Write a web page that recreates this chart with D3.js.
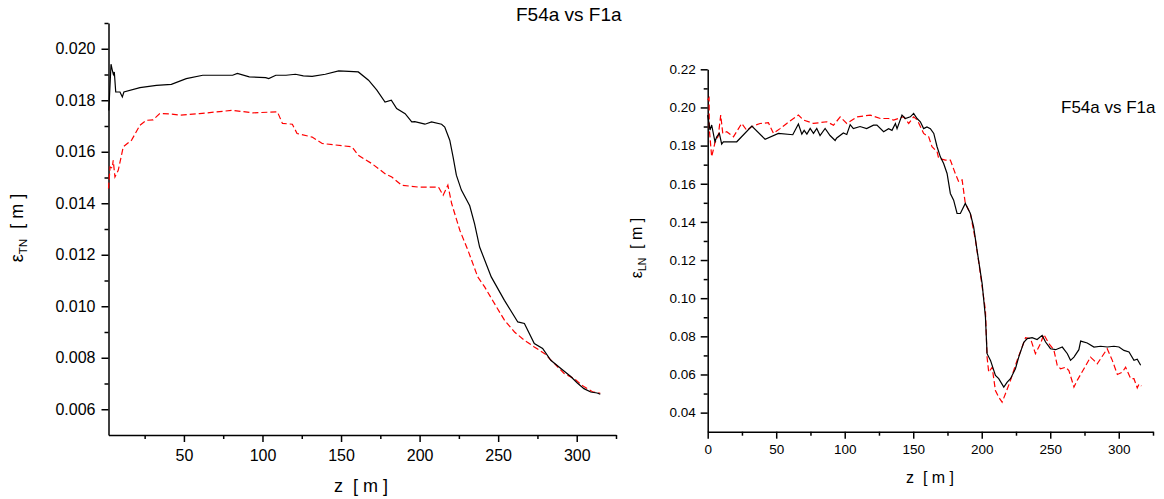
<!DOCTYPE html>
<html>
<head>
<meta charset="utf-8">
<script src="https://cdn.jsdelivr.net/npm/d3@7"></script>
<style>
  body { margin: 0; background: #fff; }
  svg { display: block; font-family: "Liberation Sans", Arial, sans-serif; }
  .axis path, .axis line { stroke: #000; stroke-width: 1.5; }
  .axis text { fill: #000; }
</style>
</head>
<body>
<div id="chart"></div>
<script>
// transverse emittance (left panel)
const tnBlackZ = [2.2, 3.6, 4.3, 5.1, 5.7, 6.6, 9.3, 10.8, 11.8, 22, 32.5, 42, 51.5, 62, 81, 84, 91.6, 102, 104, 108.5, 115, 121, 126, 131.6, 140, 148.5, 155, 161, 167.5, 172.8, 178, 182, 185.4, 190.8, 195, 197, 203.4, 207.6, 214, 216, 219.2, 221.3, 223.4, 226.6, 231.9, 235, 238.2, 245.6, 254, 262.5, 266.7, 273, 278.3, 283.5, 289.9, 296, 300.4, 304.6, 308.9, 313, 315];
const tnBlack = [0.0176, 0.0194, 0.0192, 0.0190, 0.0191, 0.01832, 0.01832, 0.01813, 0.01832, 0.01849, 0.01858, 0.01862, 0.01884, 0.01897, 0.01897, 0.01904, 0.01891, 0.01888, 0.01884, 0.01897, 0.01897, 0.01901, 0.01895, 0.01893, 0.01901, 0.01914, 0.01912, 0.0191, 0.01878, 0.01839, 0.01793, 0.018, 0.01768, 0.01748, 0.01716, 0.01717, 0.01707, 0.01716, 0.01707, 0.01696, 0.01645, 0.0158, 0.01509, 0.01451, 0.01390, 0.01320, 0.0123, 0.01114, 0.01023, 0.00939, 0.00933, 0.00855, 0.00836, 0.0079, 0.00758, 0.00728, 0.00702, 0.0068, 0.00667, 0.00663, 0.00658];
const tnRedZ = [2, 3, 4.4, 5, 6.1, 8.2, 11.4, 16.7, 22, 26, 30.4, 34.6, 41, 47.3, 60, 81, 93.7, 109.5, 112.7, 119, 122, 131.6, 138, 157, 161, 169.6, 178, 182.3, 188.6, 199, 212, 215, 218, 220.4, 225.6, 230.8, 237, 241.4, 247.7, 254, 260.4, 266.7, 273, 279.4, 285.7, 292, 298.4, 304, 310, 315];
const tnRed = [0.01457, 0.01541, 0.01537, 0.01567, 0.01502, 0.01528, 0.01619, 0.01645, 0.01703, 0.01722, 0.01724, 0.01748, 0.01747, 0.01742, 0.01748, 0.01761, 0.01751, 0.01755, 0.0171, 0.01707, 0.01671, 0.01657, 0.01632, 0.01619, 0.01586, 0.01554, 0.01515, 0.01502, 0.0147, 0.01463, 0.01463, 0.01431, 0.0147, 0.01399, 0.01295, 0.01217, 0.01114, 0.01075, 0.0101, 0.00946, 0.009, 0.00868, 0.00842, 0.00817, 0.00778, 0.00739, 0.00719, 0.0069, 0.00668, 0.00662];

// longitudinal emittance (right panel)
const lnBlackZ = [0, 1.7, 2.9, 5.3, 6.6, 8.5, 10.2, 11.4, 21.2, 32.2, 41.9, 51.6, 62.1, 66.2, 68.7, 70.4, 72.4, 74.8, 77.2, 79.6, 82, 85.7, 89.3, 93, 94.2, 99, 101.5, 104, 106.3, 111.2, 116, 121, 123.5, 128.4, 132, 134.5, 137, 138.2, 141.8, 144.2, 147.9, 150.3, 152.8, 155.2, 157.6, 160, 162.5, 165, 167.4, 169.8, 172.2, 174.7, 177.1, 179.5, 182, 184.4, 188, 191.7, 194.1, 196.6, 200.3, 202.7, 203.9, 206.4, 210, 212.4, 216.1, 218.6, 221, 224.6, 227, 230.7, 233.2, 236.8, 240.4, 244.1, 246.6, 250.2, 253.9, 258.8, 262.5, 264.8, 267.3, 270.9, 272.2, 277, 281.9, 286.8, 291.6, 296.5, 300.2, 303.8, 307.5, 311.1, 313.5, 316];
const lnBlack = [0.196, 0.1881, 0.1908, 0.182, 0.1846, 0.1864, 0.1808, 0.182, 0.182, 0.1902, 0.1833, 0.1864, 0.1857, 0.1913, 0.186, 0.188, 0.186, 0.189, 0.1864, 0.189, 0.1853, 0.189, 0.1853, 0.1827, 0.184, 0.1866, 0.1858, 0.191, 0.1889, 0.19, 0.1889, 0.1907, 0.1907, 0.1873, 0.1889, 0.188, 0.1916, 0.1889, 0.196, 0.1942, 0.1951, 0.1969, 0.1942, 0.1925, 0.1889, 0.1898, 0.1889, 0.1864, 0.1794, 0.1741, 0.1706, 0.1654, 0.1549, 0.1514, 0.1444, 0.1444, 0.1497, 0.1444, 0.1374, 0.1251, 0.1076, 0.0901, 0.0709, 0.0674, 0.0595, 0.0578, 0.0534, 0.056, 0.0578, 0.063, 0.0691, 0.0769, 0.0788, 0.0793, 0.0783, 0.0805, 0.077, 0.0735, 0.073, 0.0744, 0.0709, 0.0674, 0.0691, 0.073, 0.0775, 0.0765, 0.0744, 0.0748, 0.0744, 0.0748, 0.0744, 0.0726, 0.0718, 0.0674, 0.068, 0.0648];
const lnRedZ = [0, 1, 1.2, 2.9, 5.3, 7.7, 9.5, 11, 13.9, 18.8, 24.8, 28.5, 32.2, 38.2, 44.3, 48, 52.8, 57.7, 66.2, 69.9, 77.2, 86.9, 91.8, 96.7, 101.5, 108.8, 118.6, 126, 132, 135.7, 143, 146.7, 150.3, 153, 157.6, 161.3, 163.7, 167.4, 168.6, 173.5, 177.1, 180.7, 183.2, 185.7, 188, 191.7, 195.4, 198, 202.7, 203.9, 205.1, 207.6, 210, 212.4, 214.9, 217.3, 221, 225.8, 229.5, 232, 235.6, 239.2, 242.9, 245.3, 249, 252.6, 255.1, 257.5, 261.2, 263.6, 267.3, 269.7, 274.6, 279.4, 281.9, 284.3, 286.8, 291.6, 295.3, 299, 302.6, 305, 308.7, 311.1, 313.5, 314.8, 316.5];
const lnRed = [0.2039, 0.205, 0.1885, 0.1741, 0.1815, 0.185, 0.196, 0.1864, 0.1873, 0.1846, 0.1916, 0.188, 0.19, 0.1916, 0.192, 0.1864, 0.1889, 0.1916, 0.196, 0.1934, 0.1916, 0.1925, 0.1907, 0.195, 0.1916, 0.195, 0.196, 0.1942, 0.1942, 0.1934, 0.1951, 0.1916, 0.1951, 0.1934, 0.1864, 0.1846, 0.1794, 0.1768, 0.1733, 0.1724, 0.1724, 0.1654, 0.161, 0.162, 0.1497, 0.1444, 0.1304, 0.118, 0.0936, 0.0691, 0.0612, 0.0638, 0.0516, 0.0481, 0.0455, 0.0499, 0.0569, 0.0674, 0.0744, 0.0793, 0.0788, 0.0709, 0.0762, 0.081, 0.0762, 0.073, 0.0648, 0.063, 0.0638, 0.0621, 0.0534, 0.0569, 0.063, 0.0691, 0.0674, 0.0656, 0.0683, 0.0735, 0.0674, 0.06, 0.0612, 0.0638, 0.0578, 0.0578, 0.053, 0.055, 0.054];

const tnYTicks = [0.006, 0.008, 0.010, 0.012, 0.014, 0.016, 0.018, 0.020];
const tnYMinor = [0.007, 0.009, 0.011, 0.013, 0.015, 0.017, 0.019, 0.021];
const tnXTicks = [50, 100, 150, 200, 250, 300];
const lnYTicks = [0.04, 0.06, 0.08, 0.10, 0.12, 0.14, 0.16, 0.18, 0.20, 0.22];
const lnYMinor = [0.05, 0.07, 0.09, 0.11, 0.13, 0.15, 0.17, 0.19, 0.21];
const lnXTicks = [0, 50, 100, 150, 200, 250, 300];
const zMinor = [25, 75, 125, 175, 225, 275, 325];

const svg = d3.select('#chart').append('svg')
  .attr('width', 1164)
  .attr('height', 499);

function panel(opt) {
  const x = d3.scaleLinear().domain(opt.xDomain).range(opt.xRange);
  const y = d3.scaleLinear().domain(opt.yDomain).range(opt.yRange);
  const fs = opt.fontSize;

  // minor ticks first, so major axis draws over them
  svg.append('g').attr('class', 'axis')
    .attr('transform', `translate(${opt.xRange[0]},0)`)
    .call(d3.axisLeft(y).tickValues(opt.yMinor).tickSize(4).tickFormat(''))
    .call(g => g.select('.domain').remove());
  svg.append('g').attr('class', 'axis')
    .attr('transform', `translate(0,${opt.yRange[0]})`)
    .call(d3.axisBottom(x).tickValues(zMinor).tickSize(4).tickFormat(''))
    .call(g => g.select('.domain').remove());

  svg.append('g').attr('class', 'axis')
    .attr('transform', `translate(${opt.xRange[0]},0)`)
    .call(d3.axisLeft(y).tickValues(opt.yTicks).tickSize(7).tickSizeOuter(0)
      .tickPadding(opt.yPad).tickFormat(d3.format(opt.yFormat)))
    .call(g => g.selectAll('text').style('font-size', fs + 'px'));

  svg.append('g').attr('class', 'axis')
    .attr('transform', `translate(0,${opt.yRange[0]})`)
    .call(d3.axisBottom(x).tickValues(opt.xTicks).tickSize(7).tickSizeOuter(0)
      .tickPadding(opt.xPad))
    .call(g => g.selectAll('text').style('font-size', fs + 'px'));

  const line = d3.line().x(d => x(d[0])).y(d => y(d[1]));

  svg.append('path')
    .datum(d3.zip(opt.redZ, opt.red))
    .attr('fill', 'none')
    .attr('stroke', '#ff0000')
    .attr('stroke-width', 1.2)
    .attr('stroke-dasharray', '6,3')
    .attr('d', line);

  svg.append('path')
    .datum(d3.zip(opt.blackZ, opt.black))
    .attr('fill', 'none')
    .attr('stroke', '#000')
    .attr('stroke-width', 1.2)
    .attr('d', line);

  // axis titles
  svg.append('text')
    .attr('x', opt.xTitle[0]).attr('y', opt.xTitle[1])
    .attr('text-anchor', 'middle')
    .style('font-size', opt.titleSize + 'px')
    .style('white-space', 'pre')
    .text('z  [ m ]');

  const yt = svg.append('text')
    .attr('transform', `translate(${opt.yTitle[0]},${opt.yTitle[1]}) rotate(-90)`)
    .attr('text-anchor', 'middle')
    .style('font-size', opt.titleSize + 'px')
    .style('white-space', 'pre');
  yt.append('tspan').text('\u03b5');
  yt.append('tspan').attr('dy', 4).style('font-size', (opt.titleSize * 0.65) + 'px').text(opt.sub);
  yt.append('tspan').attr('dy', -4).text('  [ m ]');

  svg.append('text')
    .attr('x', opt.label[0]).attr('y', opt.label[1])
    .style('font-size', opt.labelSize + 'px')
    .text('F54a vs F1a');
}

panel({
  xDomain: [2, 325], xRange: [108.5, 616],
  yDomain: [0.005, 0.021], yRange: [435, 23],
  yTicks: tnYTicks, yMinor: tnYMinor, xTicks: tnXTicks, yFormat: '.3f',
  fontSize: 16, yPad: 6, xPad: 8, titleSize: 18, labelSize: 19,
  blackZ: tnBlackZ, black: tnBlack, redZ: tnRedZ, red: tnRed,
  xTitle: [361, 492], yTitle: [23, 228], sub: 'TN', label: [516, 21]
});

panel({
  xDomain: [0, 325], xRange: [707.7, 1153],
  yDomain: [0.03, 0.22], yRange: [431.7, 69.3],
  yTicks: lnYTicks, yMinor: lnYMinor, xTicks: lnXTicks, yFormat: '.2f',
  fontSize: 13.5, yPad: 5, xPad: 6, titleSize: 16, labelSize: 17,
  blackZ: lnBlackZ, black: lnBlack, redZ: lnRedZ, red: lnRed,
  xTitle: [930, 483], yTitle: [642, 248], sub: 'LN', label: [1061, 113]
});
</script>
</body>
</html>
